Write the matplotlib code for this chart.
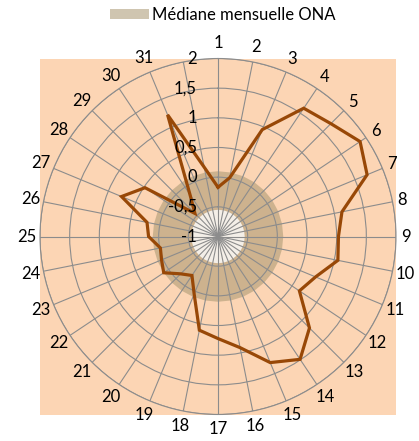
import numpy as np
import matplotlib
matplotlib.use("Agg")
import matplotlib.pyplot as plt
from matplotlib.patches import Rectangle
from matplotlib.transforms import offset_copy

plt.rcParams["font.family"] = ["Lato", "DejaVu Sans"]

# day of month (the last spoke carries no label in the original)
JOURS = [str(i) for i in range(1, 32)] + [""]

# series
ECART = [-0.17, 0.01, 0.95, 1.60, 1.69, 1.88, 1.72, 1.13, 1.03, 1.06,
         0.78, 0.65, 1.18, 1.49, 1.30, 0.91, 0.72, 0.61, 0.05, -0.21,
         -0.11, 0.10, 0.03, -0.01, 0.17, 0.22, 0.76, 0.48, -0.45, -0.15,
         1.22, 0.19]
MEDIANE = [0.1] * len(JOURS)
CENTRE = [-0.55] * len(JOURS)

R_TICKS = [-1, -0.5, 0, 0.5, 1, 1.5, 2]
R_LABELS = ["-1", "-0,5", "0", "0,5", "1", "1,5", "2"]

PEACH = "#FCD5B4"
GRID = "#8C8C8C"
BROWN = "#984807"

W, H = 419, 441
fig = plt.figure(figsize=(W / 100, H / 100), dpi=100)

# plot area: square box around the circle
x0, y0, side = 40, 58.5, 356
pos = [x0 / W, 1 - (y0 + side) / H, side / W, side / H]
bg = Rectangle((pos[0], pos[1]), pos[2], pos[3], transform=fig.transFigure,
               facecolor=PEACH, edgecolor="none", zorder=-1)
fig.add_artist(bg)

ax = fig.add_axes(pos, projection="polar")
ax.patch.set_alpha(0)
ax.set_theta_zero_location("N")
ax.set_theta_direction(-1)
ax.set_ylim(R_TICKS[0], R_TICKS[-1])

theta = np.arange(len(JOURS)) * 2 * np.pi / len(JOURS)
th = np.append(theta, theta[0])


def closed(vals):
    return np.append(vals, vals[0])


ax.fill(th, closed(MEDIANE), color="#A89670", alpha=0.55, lw=0,
        label="Médiane mensuelle ONA")
ax.fill(th, closed(CENTRE), color="white", alpha=0.8, lw=0)
ax.plot(th, closed(ECART), color=BROWN, lw=2.3, zorder=3,
        solid_joinstyle="miter")

ax.set_xticks(theta)
ax.set_xticklabels([])
ax.set_yticks(R_TICKS[1:])
ax.set_yticklabels([])
ax.set_axisbelow(False)
ax.grid(True, color=GRID, lw=0.8)
ax.spines["polar"].set_color(GRID)
ax.spines["polar"].set_linewidth(0.8)

# category labels, pushed out so their near edge sits just off the circle
for t, lab in zip(theta, JOURS):
    s, c = np.sin(t), np.cos(t)
    half_w, half_h = 3.5 * len(lab), 9
    d = 6 + np.hypot(half_w * s, half_h * c)
    tr = offset_copy(ax.transData, fig=fig, x=d * s, y=d * c, units="dots")
    ax.text(t, R_TICKS[-1], lab, transform=tr, ha="center", va="center",
            fontsize=12, color="black")

# radial value labels just left of the vertical spoke
lab_tr = offset_copy(ax.transData, fig=fig, x=-21, y=0, units="dots")
for r, lab in zip(R_TICKS, R_LABELS):
    ax.text(0, r, lab, transform=lab_tr, ha="right", va="center",
            fontsize=12, color="black", zorder=5)

fig.legend(loc="center", bbox_to_anchor=(223 / W, 1 - 15 / H),
           frameon=False, fontsize=12, handlelength=2.3, handleheight=0.55,
           handletextpad=0.2, borderpad=0)

fig.savefig("out.png", dpi=100)
